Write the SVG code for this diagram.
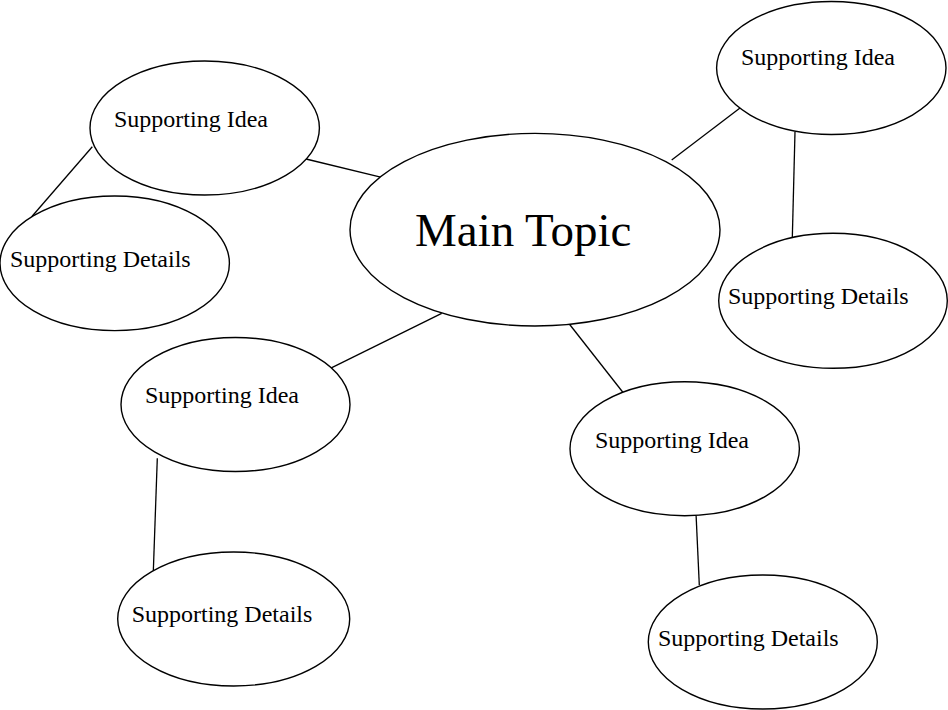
<svg xmlns="http://www.w3.org/2000/svg" width="948" height="710" viewBox="0 0 948 710">
<style>
ellipse{fill:#fff;stroke:#000;stroke-width:1.4}
line{stroke:#000;stroke-width:1.3}
text{font-family:"Liberation Serif","Times New Roman",serif;font-size:24px;fill:#000}
.main{font-size:47px}
</style>
<rect width="948" height="710" fill="#fff"/>
<g id="connectors">
<line x1="306" y1="159" x2="382.7" y2="177.7"/>
<line x1="92.3" y1="146.7" x2="31.7" y2="216.7"/>
<line x1="671.7" y1="160" x2="741" y2="107.3"/>
<line x1="795" y1="131.7" x2="792.3" y2="238.3"/>
<line x1="441.7" y1="313.3" x2="328.3" y2="369.3"/>
<line x1="569.3" y1="324" x2="625" y2="395"/>
<line x1="157.3" y1="458.3" x2="153.3" y2="571.7"/>
<line x1="695.7" y1="506.7" x2="699.3" y2="585"/>
</g>
<g id="main-topic">
<ellipse cx="535" cy="229.7" rx="185" ry="96.3"/>
<text class="main" x="415" y="246">Main Topic</text>
</g>
<g id="idea-top-left">
<ellipse cx="204.7" cy="128" rx="114.7" ry="67"/>
<text x="114" y="127">Supporting Idea</text>
</g>
<g id="details-left">
<ellipse cx="114.7" cy="263.3" rx="114.7" ry="67.3"/>
<text x="10" y="267">Supporting Details</text>
</g>
<g id="idea-top-right">
<ellipse cx="831.3" cy="68" rx="114.7" ry="66.5"/>
<text x="741" y="65">Supporting Idea</text>
</g>
<g id="details-right">
<ellipse cx="833" cy="300.8" rx="114.3" ry="67.5"/>
<text x="728" y="304">Supporting Details</text>
</g>
<g id="idea-mid-left">
<ellipse cx="235.5" cy="404.5" rx="114.5" ry="67"/>
<text x="145" y="403">Supporting Idea</text>
</g>
<g id="details-bottom-left">
<ellipse cx="233.7" cy="619" rx="116" ry="67"/>
<text x="131.7" y="622">Supporting Details</text>
</g>
<g id="idea-mid-right">
<ellipse cx="684.7" cy="448.7" rx="114.7" ry="67"/>
<text x="595" y="448">Supporting Idea</text>
</g>
<g id="details-bottom-right">
<ellipse cx="762.8" cy="642" rx="114.5" ry="67"/>
<text x="658" y="646">Supporting Details</text>
</g>
</svg>
